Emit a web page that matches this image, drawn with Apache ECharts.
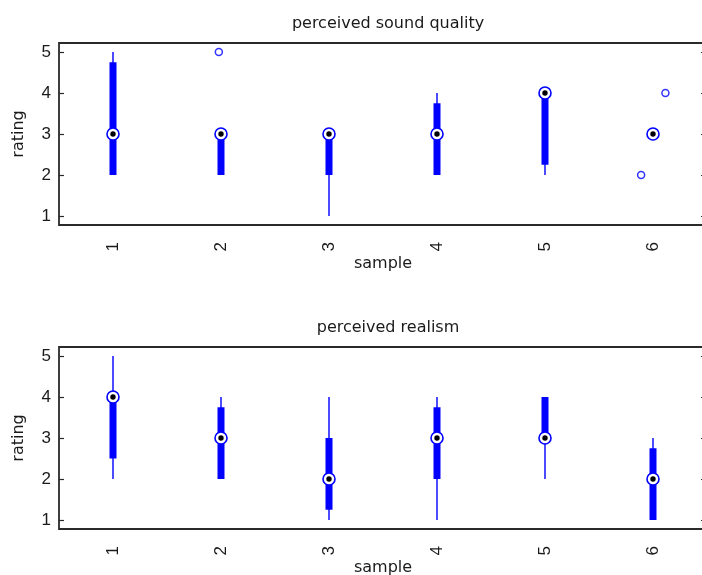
<!DOCTYPE html>
<html>
<head>
<meta charset="utf-8">
<script src="https://cdn.jsdelivr.net/npm/echarts@6/dist/echarts.min.js"></script>
<style>
  html, body { margin: 0; padding: 0; background: #fff; }
  #chart { width: 702px; height: 575px; }
</style>
</head>
<body>
<div id="chart"></div>
<script>
// Sample numbers on the x axis
const samples = [1, 2, 3, 4, 5, 6];
const ratingTicks = [1, 2, 3, 4, 5];

// Perceived sound quality: box-plot statistics per sample
const qualityLow    = [2, 2, 1, 2, 2, 3];
const qualityQ1     = [2, 2, 2, 2, 2.25, 3];
const qualityMedian = [3, 3, 3, 3, 4, 3];
const qualityQ3     = [4.75, 3, 3, 3.75, 4, 3];
const qualityHigh   = [5, 3, 3, 4, 4, 3];
// outliers: [sample, rating, horizontal jitter]
const qualityOutliers = [[2, 5, -0.02], [6, 2, -0.11], [6, 4, 0.115]];

// Perceived realism: box-plot statistics per sample
const realismLow    = [2, 2, 1, 1, 2, 1];
const realismQ1     = [2.5, 2, 1.25, 2, 3, 1];
const realismMedian = [4, 3, 2, 3, 3, 2];
const realismQ3     = [4, 3.75, 3, 3.75, 4, 2.75];
const realismHigh   = [5, 4, 4, 4, 4, 3];
const realismOutliers = [];

const BLUE = '#0000ff';
const AXIS = '#2a2a2a';
const TXT = '#1a1a1a';
const LABEL_FONT = 'DejaVu Sans';
const TICK_FONT = 'Liberation Sans';

function boxRows(low, q1, med, q3, high) {
  return samples.map((s, i) => [s, low[i], q1[i], med[i], q3[i], high[i]]);
}

// Compact box plot: thin whisker, thick box, ringed median with a dot
function renderBox(params, api) {
  const x = api.value(0);
  const pLow = api.coord([x, api.value(1)]);
  const pQ1 = api.coord([x, api.value(2)]);
  const pMed = api.coord([x, api.value(3)]);
  const pQ3 = api.coord([x, api.value(4)]);
  const pHigh = api.coord([x, api.value(5)]);
  const boxW = 7;
  return {
    type: 'group',
    children: [
      {
        type: 'line',
        shape: { x1: pLow[0], y1: pLow[1], x2: pHigh[0], y2: pHigh[1] },
        style: { stroke: BLUE, lineWidth: 1.4 }
      },
      {
        type: 'rect',
        shape: { x: pQ1[0] - boxW / 2, y: pQ3[1], width: boxW, height: Math.max(pQ1[1] - pQ3[1], 0) },
        style: { fill: BLUE }
      },
      {
        type: 'circle',
        shape: { cx: pMed[0], cy: pMed[1], r: 6 },
        style: { fill: '#fff', stroke: BLUE, lineWidth: 1.6 }
      },
      {
        type: 'circle',
        shape: { cx: pMed[0], cy: pMed[1], r: 2.7 },
        style: { fill: '#000' }
      }
    ]
  };
}

function outlierPoints(list) {
  return list.map(o => [o[0] + o[2], o[1]]);
}

const grids = [
  { left: 59, top: 43, width: 648, height: 182 },
  { left: 59, top: 347, width: 648, height: 182 }
];

function xAxisFor(gi) {
  return {
    type: 'value', gridIndex: gi, min: 0.5, max: 6.5,
    name: 'sample', nameLocation: 'middle', nameGap: 29,
    nameTextStyle: { fontFamily: LABEL_FONT, fontSize: 16, color: TXT, verticalAlign: 'top' },
    axisLine: { show: false },
    axisTick: { show: false },
    splitLine: { show: false },
    axisLabel: {
      customValues: samples, rotate: 90, margin: 17,
      fontFamily: TICK_FONT, fontSize: 17, color: TXT
    }
  };
}

function yAxesFor(gi) {
  return [
    {
      type: 'value', gridIndex: gi, min: 0.78, max: 5.22, position: 'left',
      name: 'rating', nameLocation: 'middle', nameGap: 32, nameRotate: 90,
      nameTextStyle: { fontFamily: LABEL_FONT, fontSize: 16, color: TXT },
      axisLine: { show: false },
      axisTick: { show: true, inside: true, length: 5, customValues: ratingTicks, lineStyle: { color: AXIS, width: 1.2 } },
      axisLabel: { customValues: ratingTicks, margin: 8, fontFamily: TICK_FONT, fontSize: 17, color: TXT },
      splitLine: { show: false }
    },
    {
      type: 'value', gridIndex: gi, min: 0.78, max: 5.22, position: 'right',
      axisLine: { show: false },
      axisTick: { show: true, inside: true, length: 6, customValues: ratingTicks, lineStyle: { color: AXIS, width: 1.2 } },
      axisLabel: { show: false },
      splitLine: { show: false }
    }
  ];
}

const chart = echarts.init(document.getElementById('chart'), null, { renderer: 'canvas' });

chart.setOption({
  animation: false,
  backgroundColor: '#fff',
  title: [
    {
      text: 'perceived sound quality', left: 383, top: 11, textAlign: 'center',
      textStyle: { fontFamily: LABEL_FONT, fontSize: 16, fontWeight: 'normal', color: TXT }
    },
    {
      text: 'perceived realism', left: 383, top: 315, textAlign: 'center',
      textStyle: { fontFamily: LABEL_FONT, fontSize: 16, fontWeight: 'normal', color: TXT }
    }
  ],
  grid: grids.map(g => Object.assign({
    show: true, borderColor: AXIS, borderWidth: 1.8, backgroundColor: '#fff',
    containLabel: false, outerBoundsMode: 'none'
  }, g)),
  xAxis: [xAxisFor(0), xAxisFor(1)],
  yAxis: yAxesFor(0).concat(yAxesFor(1)),
  series: [
    {
      type: 'custom', name: 'sound quality', xAxisIndex: 0, yAxisIndex: 0,
      renderItem: renderBox,
      encode: { x: 0, y: [1, 2, 3, 4, 5] },
      data: boxRows(qualityLow, qualityQ1, qualityMedian, qualityQ3, qualityHigh),
      silent: true
    },
    {
      type: 'scatter', name: 'sound quality outliers', xAxisIndex: 0, yAxisIndex: 0,
      symbol: 'circle', symbolSize: 7,
      itemStyle: { color: '#fff', borderColor: BLUE, borderWidth: 1.5 },
      data: outlierPoints(qualityOutliers), silent: true
    },
    {
      type: 'custom', name: 'realism', xAxisIndex: 1, yAxisIndex: 2,
      renderItem: renderBox,
      encode: { x: 0, y: [1, 2, 3, 4, 5] },
      data: boxRows(realismLow, realismQ1, realismMedian, realismQ3, realismHigh),
      silent: true
    },
    {
      type: 'scatter', name: 'realism outliers', xAxisIndex: 1, yAxisIndex: 2,
      symbol: 'circle', symbolSize: 7,
      itemStyle: { color: '#fff', borderColor: BLUE, borderWidth: 1.5 },
      data: outlierPoints(realismOutliers), silent: true
    }
  ]
});
</script>
</body>
</html>
